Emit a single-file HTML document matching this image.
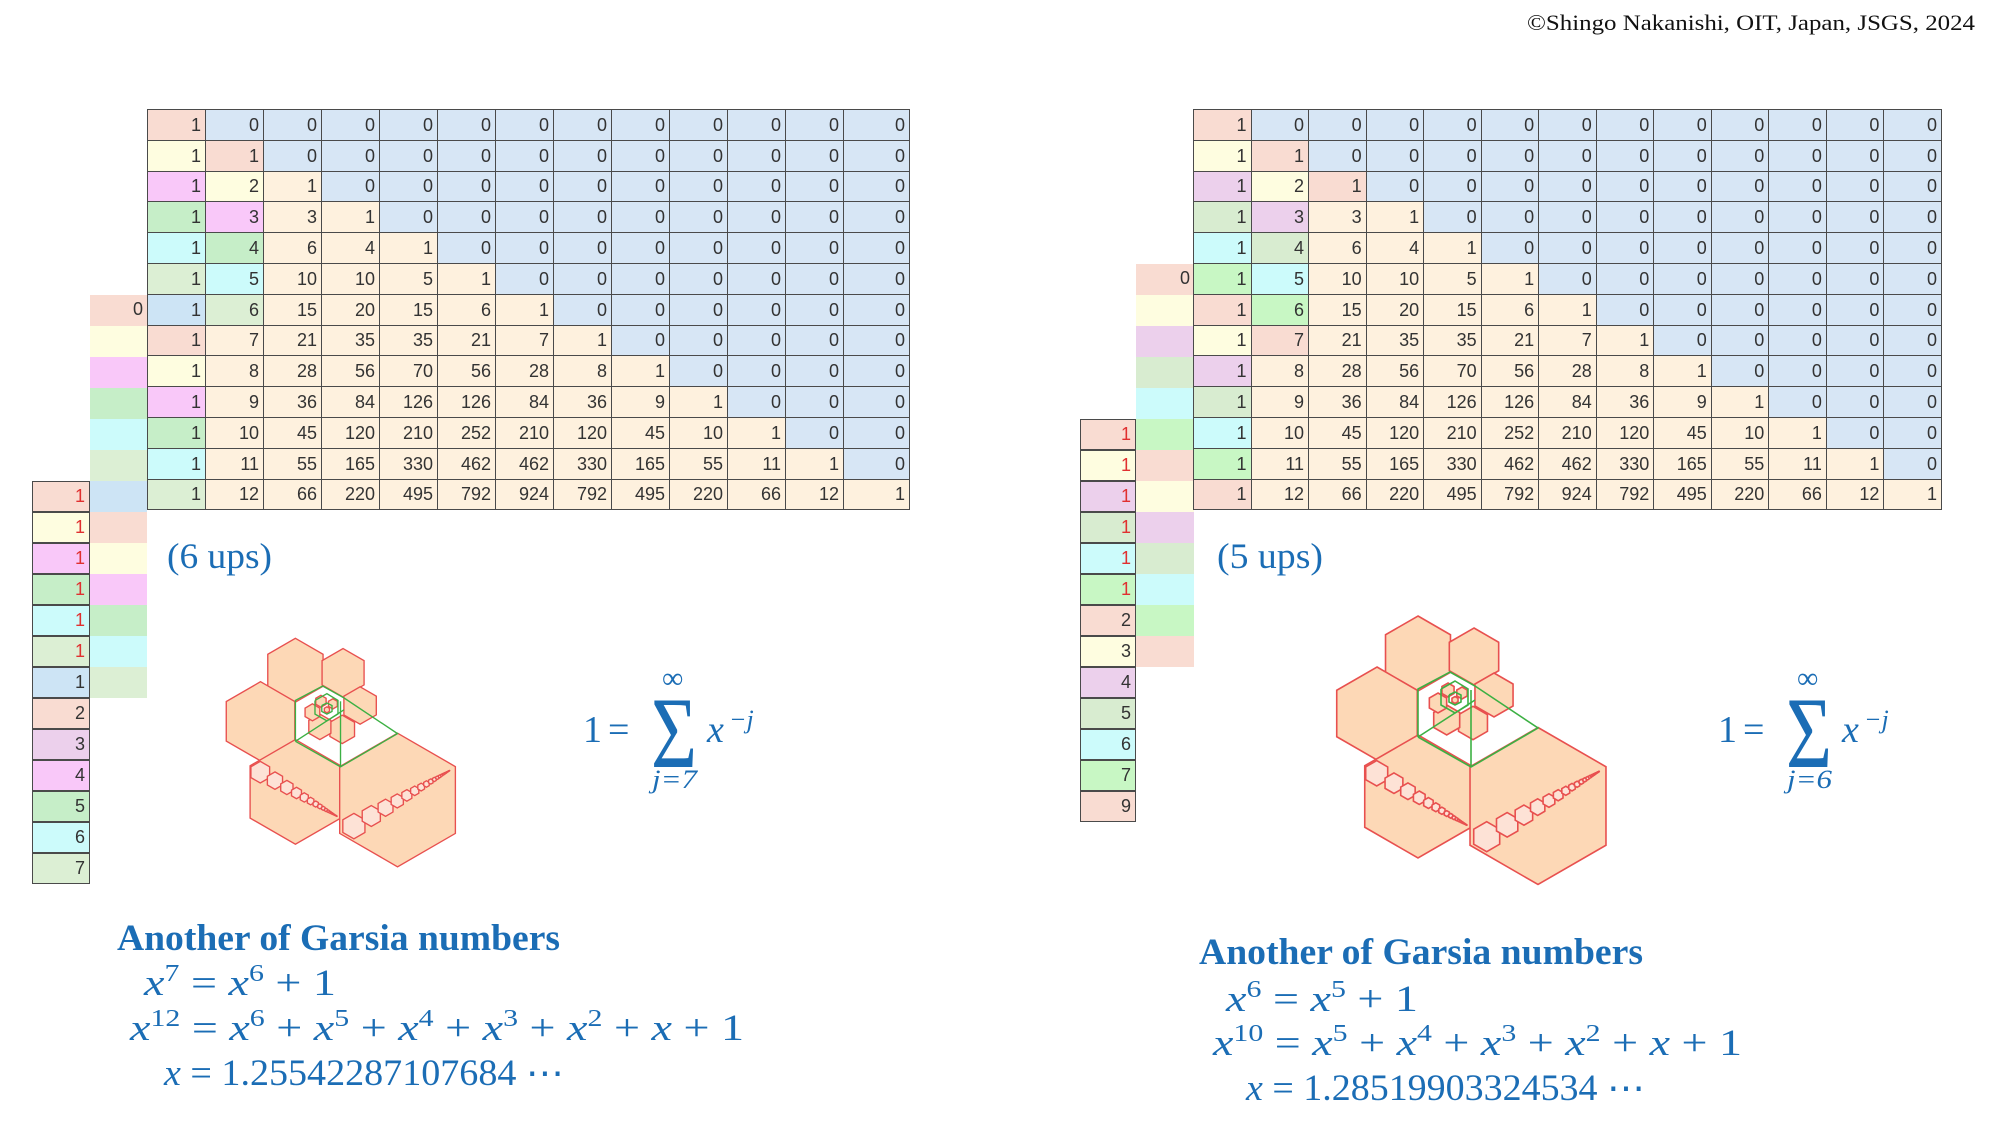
<!DOCTYPE html>
<html><head><meta charset="utf-8">
<style>
html,body{margin:0;padding:0;background:#fff;}
body{width:2000px;height:1125px;position:relative;overflow:hidden;font-family:"Liberation Sans",sans-serif;}
table.t{position:absolute;border-collapse:collapse;table-layout:fixed;}
table.t td{height:30.8px;padding:0 4px 0 0;border:1.5px solid #4a4a4a;text-align:right;font-family:"Liberation Sans Narrow","Liberation Sans",sans-serif;font-size:18px;line-height:20px;color:#333;box-sizing:border-box;overflow:hidden;white-space:nowrap;}
.col{position:absolute;}
.col div{height:31px;box-sizing:border-box;text-align:right;padding-right:4px;font-family:"Liberation Sans Narrow","Liberation Sans",sans-serif;font-size:18px;line-height:29px;color:#333;}
.col.bd div{border:1.5px solid #4a4a4a;border-top-width:0.75px;border-bottom-width:0.75px;}
.r{color:#e03030 !important;}
.p{background:#f9dcd2}.y{background:#fefde0}.m{background:#f9c8f9}.g{background:#c6eec8}
.c{background:#ccfbfb}.l{background:#dcefd4}.b{background:#cde4f5}.u{background:#d7e6f5}
.k{background:#fef1de}.v{background:#ecd0ec}.G{background:#c8f7c4}.L{background:#d8ecd0}
svg{position:absolute;left:0;top:0;}
</style></head><body>

<div class="col" style="left:90px;top:295px;width:57px;">
<div class="p">0</div><div class="y"></div><div class="m"></div><div class="g"></div><div class="c"></div><div class="l"></div><div class="b"></div><div class="p"></div><div class="y"></div><div class="m"></div><div class="g"></div><div class="c"></div><div class="l"></div>
</div>
<div class="col bd" style="left:32px;top:481px;width:58px;">
<div class="p r">1</div><div class="y r">1</div><div class="m r">1</div><div class="g r">1</div><div class="c r">1</div><div class="l r">1</div><div class="b">1</div><div class="p">2</div><div class="v">3</div><div class="m">4</div><div class="g">5</div><div class="c">6</div><div class="l">7</div>
</div>

<table class="t" style="left:147px;top:109px;width:762px;">
<colgroup><col style="width:58px"><col style="width:58px"><col style="width:58px"><col style="width:58px"><col style="width:58px"><col style="width:58px"><col style="width:58px"><col style="width:58px"><col style="width:58px"><col style="width:58px"><col style="width:58px"><col style="width:58px"><col style="width:66px"></colgroup>
<tr><td class="p">1</td><td class="u">0</td><td class="u">0</td><td class="u">0</td><td class="u">0</td><td class="u">0</td><td class="u">0</td><td class="u">0</td><td class="u">0</td><td class="u">0</td><td class="u">0</td><td class="u">0</td><td class="u">0</td></tr>
<tr><td class="y">1</td><td class="p">1</td><td class="u">0</td><td class="u">0</td><td class="u">0</td><td class="u">0</td><td class="u">0</td><td class="u">0</td><td class="u">0</td><td class="u">0</td><td class="u">0</td><td class="u">0</td><td class="u">0</td></tr>
<tr><td class="m">1</td><td class="y">2</td><td class="k">1</td><td class="u">0</td><td class="u">0</td><td class="u">0</td><td class="u">0</td><td class="u">0</td><td class="u">0</td><td class="u">0</td><td class="u">0</td><td class="u">0</td><td class="u">0</td></tr>
<tr><td class="g">1</td><td class="m">3</td><td class="k">3</td><td class="k">1</td><td class="u">0</td><td class="u">0</td><td class="u">0</td><td class="u">0</td><td class="u">0</td><td class="u">0</td><td class="u">0</td><td class="u">0</td><td class="u">0</td></tr>
<tr><td class="c">1</td><td class="g">4</td><td class="k">6</td><td class="k">4</td><td class="k">1</td><td class="u">0</td><td class="u">0</td><td class="u">0</td><td class="u">0</td><td class="u">0</td><td class="u">0</td><td class="u">0</td><td class="u">0</td></tr>
<tr><td class="l">1</td><td class="c">5</td><td class="k">10</td><td class="k">10</td><td class="k">5</td><td class="k">1</td><td class="u">0</td><td class="u">0</td><td class="u">0</td><td class="u">0</td><td class="u">0</td><td class="u">0</td><td class="u">0</td></tr>
<tr><td class="b">1</td><td class="l">6</td><td class="k">15</td><td class="k">20</td><td class="k">15</td><td class="k">6</td><td class="k">1</td><td class="u">0</td><td class="u">0</td><td class="u">0</td><td class="u">0</td><td class="u">0</td><td class="u">0</td></tr>
<tr><td class="p">1</td><td class="k">7</td><td class="k">21</td><td class="k">35</td><td class="k">35</td><td class="k">21</td><td class="k">7</td><td class="k">1</td><td class="u">0</td><td class="u">0</td><td class="u">0</td><td class="u">0</td><td class="u">0</td></tr>
<tr><td class="y">1</td><td class="k">8</td><td class="k">28</td><td class="k">56</td><td class="k">70</td><td class="k">56</td><td class="k">28</td><td class="k">8</td><td class="k">1</td><td class="u">0</td><td class="u">0</td><td class="u">0</td><td class="u">0</td></tr>
<tr><td class="m">1</td><td class="k">9</td><td class="k">36</td><td class="k">84</td><td class="k">126</td><td class="k">126</td><td class="k">84</td><td class="k">36</td><td class="k">9</td><td class="k">1</td><td class="u">0</td><td class="u">0</td><td class="u">0</td></tr>
<tr><td class="g">1</td><td class="k">10</td><td class="k">45</td><td class="k">120</td><td class="k">210</td><td class="k">252</td><td class="k">210</td><td class="k">120</td><td class="k">45</td><td class="k">10</td><td class="k">1</td><td class="u">0</td><td class="u">0</td></tr>
<tr><td class="c">1</td><td class="k">11</td><td class="k">55</td><td class="k">165</td><td class="k">330</td><td class="k">462</td><td class="k">462</td><td class="k">330</td><td class="k">165</td><td class="k">55</td><td class="k">11</td><td class="k">1</td><td class="u">0</td></tr>
<tr><td class="l">1</td><td class="k">12</td><td class="k">66</td><td class="k">220</td><td class="k">495</td><td class="k">792</td><td class="k">924</td><td class="k">792</td><td class="k">495</td><td class="k">220</td><td class="k">66</td><td class="k">12</td><td class="k">1</td></tr>
</table>

<div class="col" style="left:1136px;top:264px;width:58px;">
<div class="p">0</div><div class="y"></div><div class="v"></div><div class="L"></div><div class="c"></div><div class="G"></div><div class="p"></div><div class="y"></div><div class="v"></div><div class="L"></div><div class="c"></div><div class="G"></div><div class="p"></div>
</div>
<div class="col bd" style="left:1080px;top:419px;width:56px;">
<div class="p r">1</div><div class="y r">1</div><div class="v r">1</div><div class="L r">1</div><div class="c r">1</div><div class="G r">1</div><div class="p">2</div><div class="y">3</div><div class="v">4</div><div class="L">5</div><div class="c">6</div><div class="G">7</div><div class="p">9</div>
</div>

<table class="t" style="left:1193px;top:109px;width:749px;">
<tr><td class="p">1</td><td class="u">0</td><td class="u">0</td><td class="u">0</td><td class="u">0</td><td class="u">0</td><td class="u">0</td><td class="u">0</td><td class="u">0</td><td class="u">0</td><td class="u">0</td><td class="u">0</td><td class="u">0</td></tr>
<tr><td class="y">1</td><td class="p">1</td><td class="u">0</td><td class="u">0</td><td class="u">0</td><td class="u">0</td><td class="u">0</td><td class="u">0</td><td class="u">0</td><td class="u">0</td><td class="u">0</td><td class="u">0</td><td class="u">0</td></tr>
<tr><td class="v">1</td><td class="y">2</td><td class="p">1</td><td class="u">0</td><td class="u">0</td><td class="u">0</td><td class="u">0</td><td class="u">0</td><td class="u">0</td><td class="u">0</td><td class="u">0</td><td class="u">0</td><td class="u">0</td></tr>
<tr><td class="L">1</td><td class="v">3</td><td class="k">3</td><td class="k">1</td><td class="u">0</td><td class="u">0</td><td class="u">0</td><td class="u">0</td><td class="u">0</td><td class="u">0</td><td class="u">0</td><td class="u">0</td><td class="u">0</td></tr>
<tr><td class="c">1</td><td class="L">4</td><td class="k">6</td><td class="k">4</td><td class="k">1</td><td class="u">0</td><td class="u">0</td><td class="u">0</td><td class="u">0</td><td class="u">0</td><td class="u">0</td><td class="u">0</td><td class="u">0</td></tr>
<tr><td class="G">1</td><td class="c">5</td><td class="k">10</td><td class="k">10</td><td class="k">5</td><td class="k">1</td><td class="u">0</td><td class="u">0</td><td class="u">0</td><td class="u">0</td><td class="u">0</td><td class="u">0</td><td class="u">0</td></tr>
<tr><td class="p">1</td><td class="G">6</td><td class="k">15</td><td class="k">20</td><td class="k">15</td><td class="k">6</td><td class="k">1</td><td class="u">0</td><td class="u">0</td><td class="u">0</td><td class="u">0</td><td class="u">0</td><td class="u">0</td></tr>
<tr><td class="y">1</td><td class="p">7</td><td class="k">21</td><td class="k">35</td><td class="k">35</td><td class="k">21</td><td class="k">7</td><td class="k">1</td><td class="u">0</td><td class="u">0</td><td class="u">0</td><td class="u">0</td><td class="u">0</td></tr>
<tr><td class="v">1</td><td class="k">8</td><td class="k">28</td><td class="k">56</td><td class="k">70</td><td class="k">56</td><td class="k">28</td><td class="k">8</td><td class="k">1</td><td class="u">0</td><td class="u">0</td><td class="u">0</td><td class="u">0</td></tr>
<tr><td class="L">1</td><td class="k">9</td><td class="k">36</td><td class="k">84</td><td class="k">126</td><td class="k">126</td><td class="k">84</td><td class="k">36</td><td class="k">9</td><td class="k">1</td><td class="u">0</td><td class="u">0</td><td class="u">0</td></tr>
<tr><td class="c">1</td><td class="k">10</td><td class="k">45</td><td class="k">120</td><td class="k">210</td><td class="k">252</td><td class="k">210</td><td class="k">120</td><td class="k">45</td><td class="k">10</td><td class="k">1</td><td class="u">0</td><td class="u">0</td></tr>
<tr><td class="G">1</td><td class="k">11</td><td class="k">55</td><td class="k">165</td><td class="k">330</td><td class="k">462</td><td class="k">462</td><td class="k">330</td><td class="k">165</td><td class="k">55</td><td class="k">11</td><td class="k">1</td><td class="u">0</td></tr>
<tr><td class="p">1</td><td class="k">12</td><td class="k">66</td><td class="k">220</td><td class="k">495</td><td class="k">792</td><td class="k">924</td><td class="k">792</td><td class="k">495</td><td class="k">220</td><td class="k">66</td><td class="k">12</td><td class="k">1</td></tr>
</table>

<svg width="2000" height="1125" viewBox="0 0 2000 1125" xmlns="http://www.w3.org/2000/svg">
  <g id="figR"></g>
  <g id="figL" transform="translate(-911.3,114.1) scale(0.851)"></g>

  <g font-family="Liberation Serif, serif" fill="#1b6db5">
    <text x="1527" y="30" font-size="22" fill="#111" textLength="448" lengthAdjust="spacingAndGlyphs">©Shingo Nakanishi, OIT, Japan, JSGS, 2024</text>

    <text x="167" y="568" font-size="36" textLength="105" lengthAdjust="spacingAndGlyphs">(6 ups)</text>
    <text x="1217" y="568" font-size="36" textLength="106" lengthAdjust="spacingAndGlyphs">(5 ups)</text>

    <text x="583" y="742" font-size="38">1</text>
    <text x="608" y="742" font-size="38">=</text>
    <text x="651" y="767" font-size="102" textLength="46" lengthAdjust="spacingAndGlyphs">Σ</text>
    <text x="662" y="688" font-size="30">∞</text>
    <text x="652" y="788" font-size="26" font-style="italic" textLength="45" lengthAdjust="spacingAndGlyphs">j=7</text>
    <text x="707" y="742" font-size="38" font-style="italic">x</text>
    <text x="729" y="728" font-size="26" font-style="italic">−j</text>

    <text x="1718" y="742" font-size="38">1</text>
    <text x="1743" y="742" font-size="38">=</text>
    <text x="1786" y="767" font-size="102" textLength="46" lengthAdjust="spacingAndGlyphs">Σ</text>
    <text x="1797" y="688" font-size="30">∞</text>
    <text x="1787" y="788" font-size="26" font-style="italic" textLength="45" lengthAdjust="spacingAndGlyphs">j=6</text>
    <text x="1842" y="742" font-size="38" font-style="italic">x</text>
    <text x="1864" y="728" font-size="26" font-style="italic">−j</text>

    <text x="117" y="950" font-size="37" font-weight="bold" textLength="443" lengthAdjust="spacingAndGlyphs">Another of Garsia numbers</text>
    <text x="144" y="995" font-size="37" textLength="192" lengthAdjust="spacingAndGlyphs"><tspan font-style="italic">x</tspan><tspan dy="-14" font-size="24">7</tspan><tspan dy="14"> = </tspan><tspan font-style="italic">x</tspan><tspan dy="-14" font-size="24">6</tspan><tspan dy="14"> + 1</tspan></text>
    <text x="130" y="1040" font-size="37" textLength="614" lengthAdjust="spacingAndGlyphs"><tspan font-style="italic">x</tspan><tspan dy="-14" font-size="24">12</tspan><tspan dy="14"> = </tspan><tspan font-style="italic">x</tspan><tspan dy="-14" font-size="24">6</tspan><tspan dy="14"> + </tspan><tspan font-style="italic">x</tspan><tspan dy="-14" font-size="24">5</tspan><tspan dy="14"> + </tspan><tspan font-style="italic">x</tspan><tspan dy="-14" font-size="24">4</tspan><tspan dy="14"> + </tspan><tspan font-style="italic">x</tspan><tspan dy="-14" font-size="24">3</tspan><tspan dy="14"> + </tspan><tspan font-style="italic">x</tspan><tspan dy="-14" font-size="24">2</tspan><tspan dy="14"> + </tspan><tspan font-style="italic">x</tspan><tspan> + 1</tspan></text>
    <text x="164" y="1085" font-size="37" textLength="400" lengthAdjust="spacingAndGlyphs"><tspan font-style="italic">x</tspan> = 1.25542287107684 ⋯</text>

    <text x="1199" y="964" font-size="37" font-weight="bold" textLength="444" lengthAdjust="spacingAndGlyphs">Another of Garsia numbers</text>
    <text x="1226" y="1011" font-size="37" textLength="192" lengthAdjust="spacingAndGlyphs"><tspan font-style="italic">x</tspan><tspan dy="-14" font-size="24">6</tspan><tspan dy="14"> = </tspan><tspan font-style="italic">x</tspan><tspan dy="-14" font-size="24">5</tspan><tspan dy="14"> + 1</tspan></text>
    <text x="1213" y="1055" font-size="37" textLength="529" lengthAdjust="spacingAndGlyphs"><tspan font-style="italic">x</tspan><tspan dy="-14" font-size="24">10</tspan><tspan dy="14"> = </tspan><tspan font-style="italic">x</tspan><tspan dy="-14" font-size="24">5</tspan><tspan dy="14"> + </tspan><tspan font-style="italic">x</tspan><tspan dy="-14" font-size="24">4</tspan><tspan dy="14"> + </tspan><tspan font-style="italic">x</tspan><tspan dy="-14" font-size="24">3</tspan><tspan dy="14"> + </tspan><tspan font-style="italic">x</tspan><tspan dy="-14" font-size="24">2</tspan><tspan dy="14"> + </tspan><tspan font-style="italic">x</tspan><tspan> + 1</tspan></text>
    <text x="1246" y="1100" font-size="37" textLength="399" lengthAdjust="spacingAndGlyphs"><tspan font-style="italic">x</tspan> = 1.28519903324534 ⋯</text>
  </g>
</svg>

<script>
(function(){
  var NS="http://www.w3.org/2000/svg";
  function hex(g,cx,cy,r,fill){
    var hw=r*0.8660254,pts=[[cx,cy-r],[cx+hw,cy-r/2],[cx+hw,cy+r/2],[cx,cy+r],[cx-hw,cy+r/2],[cx-hw,cy-r/2]];
    var p=document.createElementNS(NS,"polygon");
    p.setAttribute("points",pts.map(function(a){return a[0].toFixed(2)+","+a[1].toFixed(2);}).join(" "));
    p.setAttribute("fill",fill);p.setAttribute("stroke","#e8504f");p.setAttribute("stroke-width","1.6");
    g.appendChild(p);
  }
  function line(g,pts,col){
    var p=document.createElementNS(NS,"polyline");
    p.setAttribute("points",pts.map(function(a){return a.join(",");}).join(" "));
    p.setAttribute("fill","none");p.setAttribute("stroke",col);p.setAttribute("stroke-width","1.6");
    g.appendChild(p);
  }
  function chain(g,x,y,r,ux,uy,q,n){
    for(var k=0;k<n;k++){
      hex(g,x,y,r,"#fde2d6");
      var r2=r*q,d=0.866*(r+r2);x+=ux*d;y+=uy*d;r=r2;
    }
  }
  function fig(g){
    var F="#fdd8b6";
    hex(g,1418,653.5,37.5,F);
    hex(g,1474,656.5,28.5,F);
    hex(g,1494,695,22,F);
    hex(g,1377,713.5,46.5,F);
    hex(g,1418,796.5,61.5,F);
    hex(g,1538,806,78.5,F);
    hex(g,1473,723,16.7,F);
    hex(g,1446.7,720,15,F);
    hex(g,1438,703,10,F);
    hex(g,1448,690,7,F);
    hex(g,1462,693,6,F);
    hex(g,1455,700,3.5,F);
    chain(g,1376.7,773.3,12.7,0.867,0.498,0.81,24);
    chain(g,1486.7,836.7,15,0.865,-0.502,0.82,24);
    var G="#3cb043";
    line(g,[[1418,737],[1418,689],[1450,672],[1475,686],[1538,728],[1471,767],[1418,737]],G);
    line(g,[[1471,690],[1471,767]],G);
    line(g,[[1418,737],[1475,700]],G);
    line(g,[[1441,689],[1455,681],[1468,689],[1468,705],[1455,713],[1441,705],[1441,689]],G);
    line(g,[[1449,695],[1455,692],[1461,695],[1461,702],[1455,705],[1449,702],[1449,695]],G);
  }
  fig(document.getElementById("figR"));
  fig(document.getElementById("figL"));
})();
</script>
</body></html>
